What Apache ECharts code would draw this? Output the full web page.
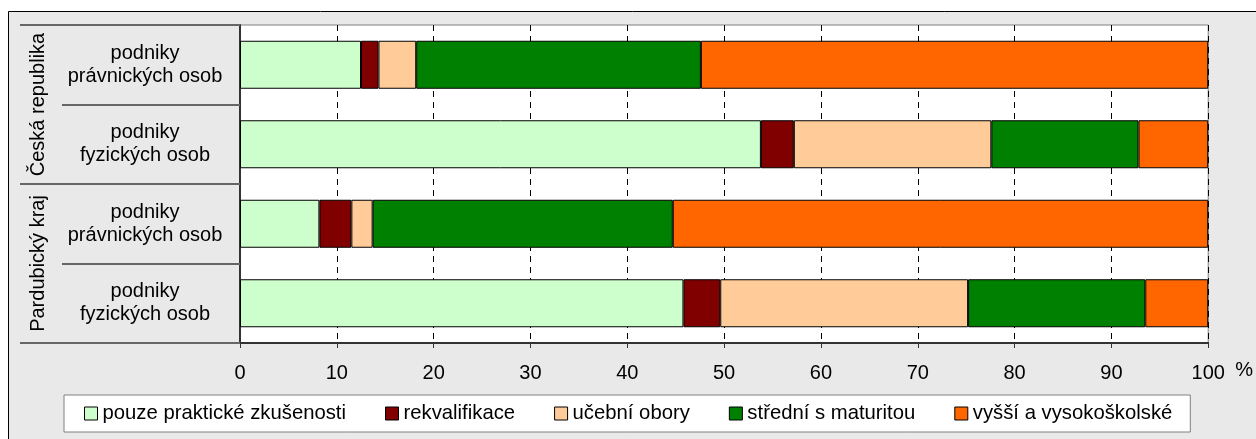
<!DOCTYPE html>
<html>
<head>
<meta charset="utf-8">
<script src="https://cdn.jsdelivr.net/npm/echarts@6/dist/echarts.min.js"></script>
<style>
  html, body { margin: 0; padding: 0; background: #fff; }
  #chart { width: 1256px; height: 439px; }
</style>
</head>
<body>
<div id="chart"></div>
<script>
// data
const categories = ['podniky\nprávnických osob', 'podniky\nfyzických osob', 'podniky\nprávnických osob', 'podniky\nfyzických osob'];
const groups = ['Česká republika', 'Pardubický kraj'];
const seriesNames = ['pouze praktické zkušenosti', 'rekvalifikace', 'učební obory', 'střední s maturitou', 'vyšší a vysokoškolské'];
const prakticke = [12.5, 53.8, 8.2, 45.8];
const rekvalifikace = [1.8, 3.4, 3.3, 3.8];
const ucebni = [3.9, 20.4, 2.2, 25.6];
const stredni = [29.4, 15.2, 31.0, 18.3];
const vyssi = [52.4, 7.2, 55.3, 6.5];
const xTicks = [0, 10, 20, 30, 40, 50, 60, 70, 80, 90, 100];

const colors = ['#ccffcc', '#800000', '#ffcc99', '#008000', '#ff6600'];
const values = [prakticke, rekvalifikace, ucebni, stredni, vyssi];
const font = 'Liberation Sans, Arial, sans-serif';

const chart = echarts.init(document.getElementById('chart'));

const series = seriesNames.map((name, i) => ({
  name: name,
  type: 'bar',
  stack: 'total',
  yAxisIndex: 0,
  barWidth: 48,
  data: values[i],
  itemStyle: { color: colors[i], borderColor: '#000', borderWidth: 1 },
  emphasis: { disabled: true }
}));

chart.setOption({
  animation: false,
  textStyle: { fontFamily: font },
  graphic: [{
    type: 'rect',
    z: -100,
    silent: true,
    shape: { x: 8.5, y: 11.5, width: 1300, height: 500 },
    style: { fill: '#e9e9e9', stroke: '#000', lineWidth: 1 }
  }],
  grid: {
    left: 240, right: 46, top: 25, bottom: 96,
    show: true, backgroundColor: '#fff', borderColor: '#808080', borderWidth: 1
  },
  legend: {
    left: 64, top: 395,
    padding: [8, 18, 8, 20],
    backgroundColor: '#fff',
    borderColor: '#808080', borderWidth: 1,
    itemWidth: 13, itemHeight: 13, itemGap: 39,
    icon: 'rect',
    itemStyle: { borderColor: '#000', borderWidth: 1 },
    textStyle: { fontSize: 20.3, color: '#000', fontFamily: font, lineHeight: 21 },
    data: seriesNames,
    selectedMode: false
  },
  xAxis: {
    type: 'value',
    min: xTicks[0], max: xTicks[xTicks.length - 1], interval: 10,
    name: '%',
    nameLocation: 'end',
    nameGap: 27,
    nameTextStyle: { fontSize: 20, color: '#000', verticalAlign: 'top', padding: [17, 0, 0, 0] },
    axisLine: { show: true, lineStyle: { color: '#333', width: 2 } },
    axisTick: { show: true, length: 5, lineStyle: { color: '#333' } },
    axisLabel: { fontSize: 20, color: '#000', margin: 20 },
    splitLine: { show: true, lineStyle: { color: '#000', type: [6, 5], width: 1 } }
  },
  yAxis: [{
    type: 'category',
    inverse: true,
    data: categories,
    position: 'left',
    axisLine: { show: true, lineStyle: { color: '#333', width: 2 } },
    axisTick: { show: true, length: 178, lineStyle: { color: '#666', width: 2 } },
    axisLabel: { fontSize: 20, color: '#000', align: 'center', margin: 95, lineHeight: 23, interval: 0 },
    splitLine: { show: false }
  }, {
    type: 'category',
    inverse: true,
    data: groups,
    position: 'left',
    axisLine: { show: false },
    axisTick: { show: true, length: 220, interval: 0, lineStyle: { color: '#666', width: 2 } },
    axisLabel: { fontSize: 20, color: '#000', rotate: 90, align: 'center', verticalAlign: 'middle', margin: 202, interval: 0 },
    splitLine: { show: false }
  }],
  series: series
});
</script>
</body>
</html>
